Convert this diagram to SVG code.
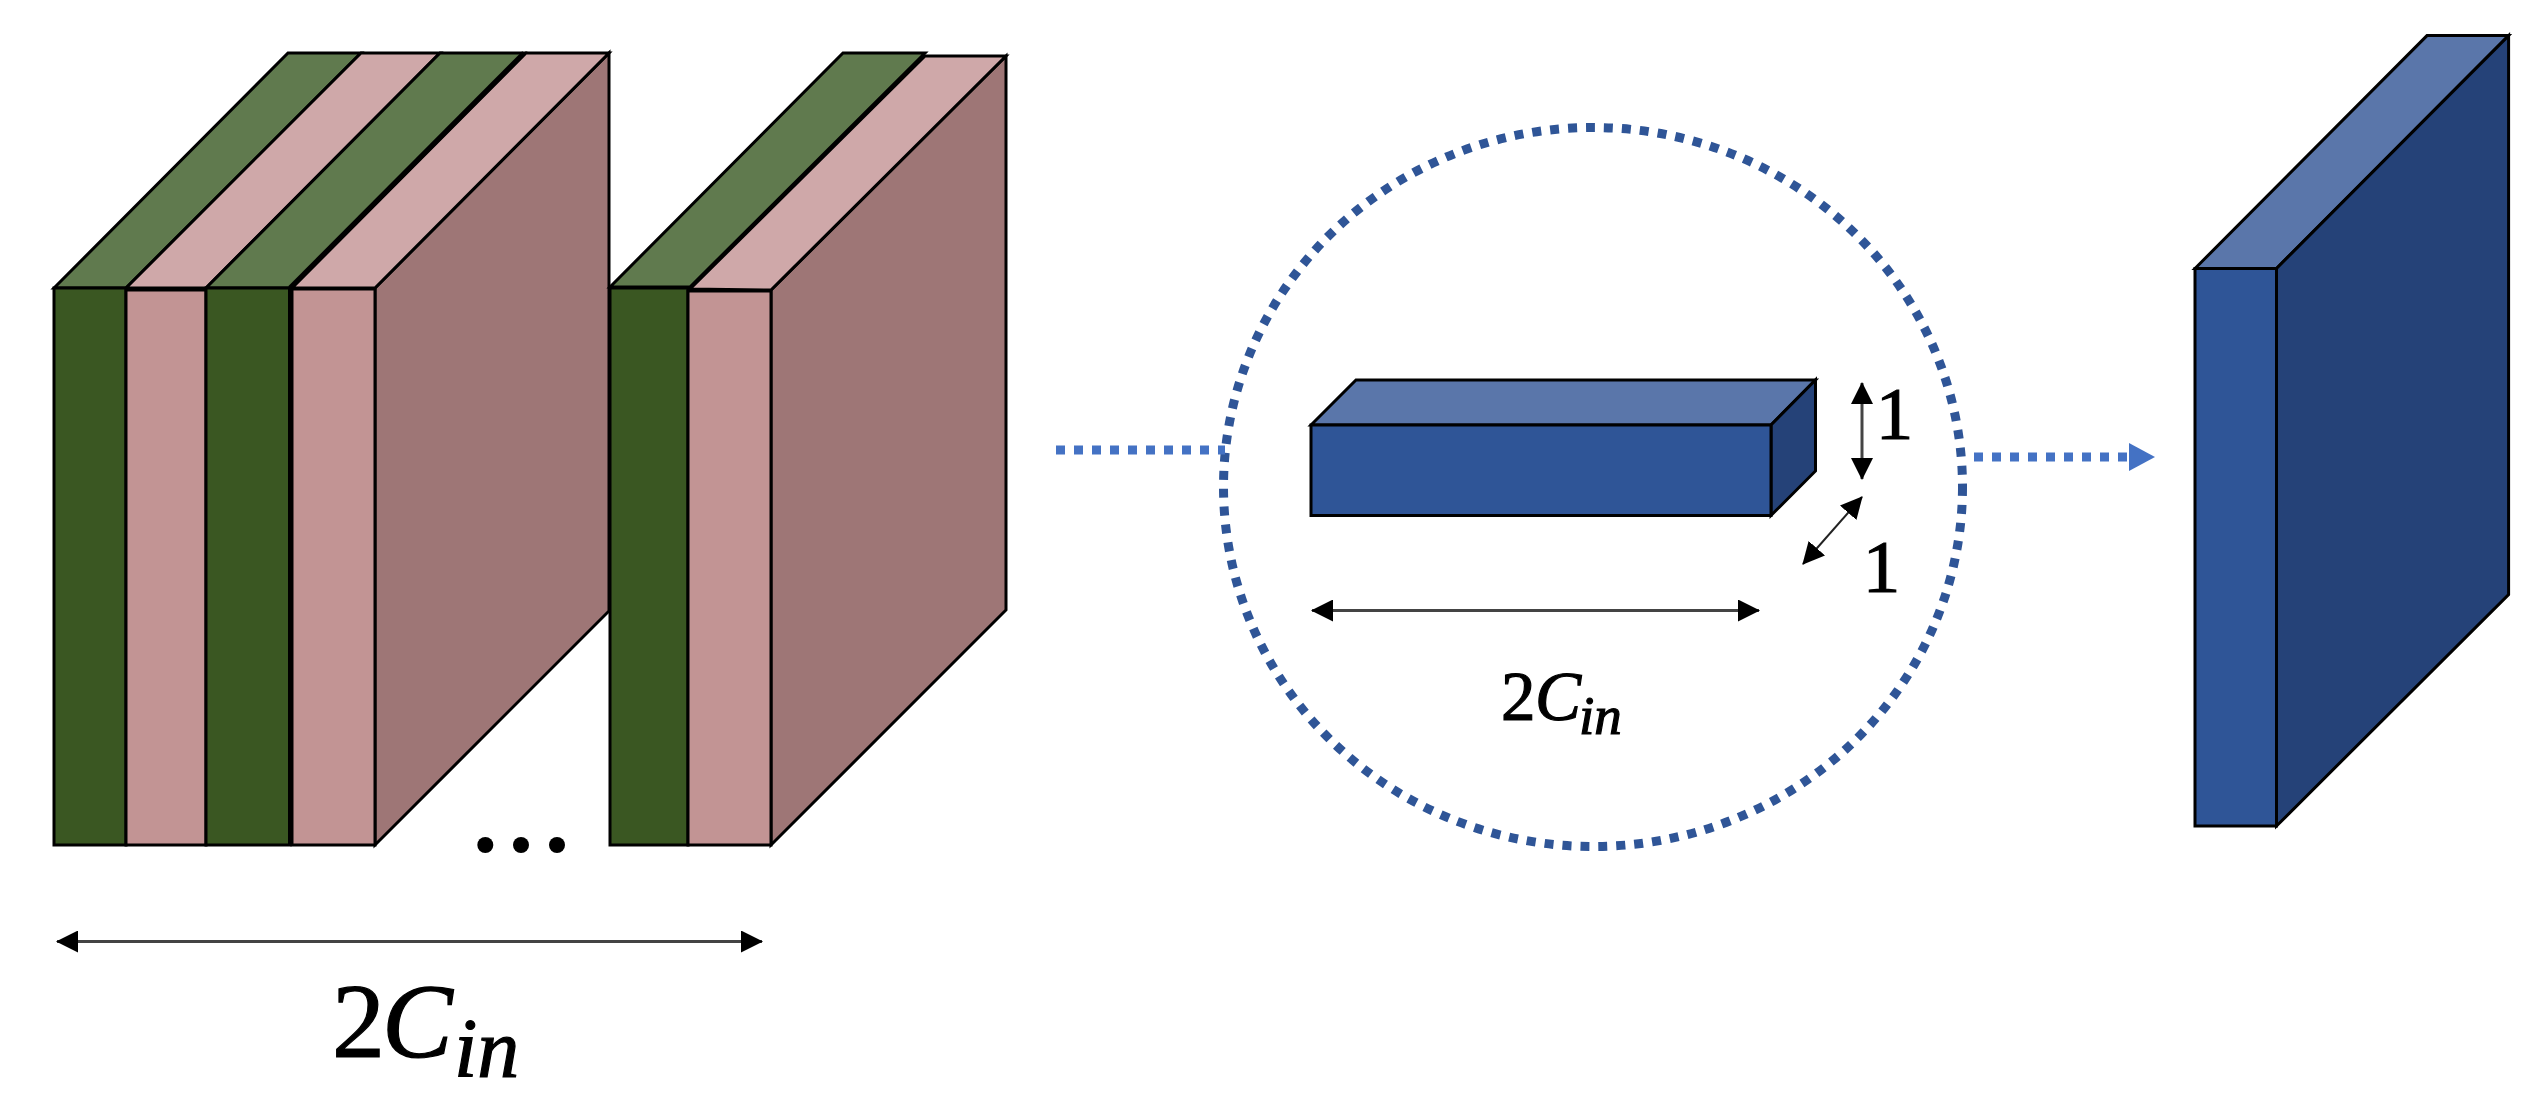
<svg xmlns="http://www.w3.org/2000/svg" width="2541" height="1109" viewBox="0 0 2541 1109">
<style>
.g1{fill:#3a5722}.g2{fill:#607a4e}.p1{fill:#c29494}.p2{fill:#cfa8a9}.p3{fill:#9e7676}
.b1{fill:#2f5597}.b2{fill:#5a76aa}.b3{fill:#254278}
.s{stroke:#000;stroke-width:3;stroke-linejoin:miter}
.t{font-family:"Liberation Serif",serif;fill:#000;stroke:#000;stroke-width:1.2}
.i{font-style:italic}
.dim{stroke:#444;stroke-width:3;fill:none;marker-start:url(#ah);marker-end:url(#ah)}
.thin{stroke:#222;stroke-width:2;fill:none;marker-start:url(#ah);marker-end:url(#ah)}
.flow{stroke:#4472c4;stroke-width:9;stroke-dasharray:9 9;fill:none}
</style>
<defs>
<marker id="ah" viewBox="0 0 22 22" refX="21" refY="11" markerWidth="22" markerHeight="22" markerUnits="userSpaceOnUse" orient="auto-start-reverse"><path d="M0 0L22 11L0 22Z" fill="#000"/></marker>
</defs>
<rect width="2541" height="1109" fill="#fff"/>
<g id="stack-left">
<path class="p3 s" d="M375 288L609 53V611L375 845Z"/>
<path class="g2 s" d="M54 288L288 53H361L126 288Z"/>
<path class="p2 s" d="M126 288L361 53H440L206 288Z"/>
<path class="g2 s" d="M206 288L440 53H524L290 288Z"/>
<path class="p2 s" d="M292 288L526 53H609L375 288Z"/>
<path d="M290 288L524 53" stroke="#000" stroke-width="5" fill="none"/>
<rect class="g1 s" x="54" y="288" width="72" height="557"/>
<rect class="p1 s" x="126" y="290" width="80" height="555"/>
<rect class="g1 s" x="206" y="288" width="84" height="557"/>
<rect class="p1 s" x="292" y="289" width="83" height="556"/>
<path d="M290 288V845" stroke="#000" stroke-width="4" fill="none"/>
</g>
<g id="stack-right">
<path class="p3 s" d="M771 290L1006 56V610L771 845Z"/>
<path class="p2 s" d="M690 289L925 56H1006L771 290Z"/>
<path class="g2 s" d="M610 287L843 53H925L690 287Z"/>
<rect class="g1 s" x="610" y="288" width="78" height="557"/>
<rect class="p1 s" x="688" y="291" width="83" height="554"/>
</g>
<g id="ellipsis">
<circle cx="485.3" cy="845" r="8"/><circle cx="521" cy="845" r="8"/><circle cx="557" cy="845" r="8"/>
</g>
<g id="lens">
<ellipse cx="1593" cy="487" rx="369.5" ry="359.5" fill="none" stroke="#2f5597" stroke-width="9" stroke-dasharray="9 9"/>
</g>
<g id="kernel">
<path class="b2 s" d="M1311 425L1356 380H1815.5L1771 425Z"/>
<path class="b3 s" d="M1771 425L1815.5 380V471L1771 515.5Z"/>
<rect class="b1 s" x="1311" y="425" width="460" height="90.5"/>
</g>
<g id="block-right">
<path class="b2 s" d="M2195 268.5L2427 35.6H2508.6L2276.5 268.5Z"/>
<path class="b3 s" d="M2276.5 268.5L2508.6 35.6V594.6L2276.5 826Z"/>
<rect class="b1 s" x="2195" y="268.5" width="81.5" height="557.5"/>
</g>
<g id="connectors">
<path class="dim" d="M57 941.5H762"/>
<path class="dim" d="M1312 610.5H1759"/>
<path class="dim" d="M1862 383V479"/>
<path class="thin" d="M1862 497L1803 564"/>
<path class="flow" d="M1056 450H1225"/>
<path class="flow" d="M1974 457H2129"/>
<path d="M2129 443L2155 457L2129 471Z" fill="#4472c4"/>
</g>
<g id="labels">
<text class="t" x="332" y="1057" font-size="106">2<tspan class="i" x="382">C</tspan><tspan class="i" x="454" y="1077" font-size="84">in</tspan></text>
<text class="t" x="1501" y="720" font-size="69">2<tspan class="i" x="1535">C</tspan><tspan class="i" x="1579" y="734" font-size="55">in</tspan></text>
<text class="t" x="1894.5" y="439" font-size="75" text-anchor="middle">1</text>
<text class="t" x="1881.5" y="592" font-size="75" text-anchor="middle">1</text>
</g>
</svg>
